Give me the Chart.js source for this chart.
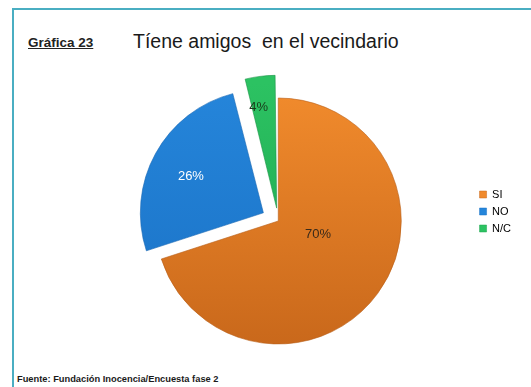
<!DOCTYPE html>
<html>
<head>
<meta charset="utf-8">
<script src="https://cdn.jsdelivr.net/npm/chart.js@4/dist/chart.umd.min.js"></script>
<style>
  html, body { margin: 0; padding: 0; background: #fff; }
  body { width: 531px; height: 387px; position: relative; overflow: hidden; font-family: "Liberation Sans", Arial, sans-serif; }
  .marco { position: absolute; left: 12px; top: 8px; width: 520px; height: 390px; border-top: 2px solid #4aaec2; border-left: 2px solid #4aaec2; border-right: 1px solid #d8eef2; box-sizing: border-box; }
  .numero { position: absolute; left: 28px; top: 35px; font-size: 13.5px; font-weight: bold; text-decoration: underline; color: #222; }
  .titulo { position: absolute; left: 133px; top: 30px; font-size: 19.5px; color: #1a1a1a; white-space: pre; }
  .fuente { position: absolute; left: 17px; top: 374px; font-size: 9.3px; font-weight: bold; color: #1a1a1a; }
  canvas { position: absolute; left: 0; top: 0; }
</style>
</head>
<body>
<div class="marco"></div>
<div class="numero">Gráfica 23</div>
<div class="titulo">Tíene amigos  en el vecindario</div>
<div class="fuente">Fuente: Fundación Inocencia/Encuesta fase 2</div>
<canvas id="grafica" width="531" height="387"></canvas>
<script>
// datos de la grafica
const categorias = ['SI', 'NO', 'N/C'];
const porcentajes = [70, 26, 4];
const coloresArriba = ['#f08a2c', '#2585da', '#2cc262'];
const coloresAbajo = ['#c9681b', '#1a72c6', '#1da44f'];
const coloresTexto = ['#3a2a1a', '#ffffff', '#1a3a1a'];

// degradado vertical para cada porcion
function degradado(ctx) {
    const chart = ctx.chart;
    const area = chart.chartArea;
    const i = ctx.dataIndex;
    if (!area) return coloresArriba[i];
    const cy = (area.top + area.bottom) / 2;
    const g = chart.ctx.createLinearGradient(0, cy - 125, 0, cy + 125);
    g.addColorStop(0, coloresArriba[i]);
    g.addColorStop(1, coloresAbajo[i]);
    return g;
}

// etiquetas de porcentaje dentro de cada porcion
const etiquetas = {
    id: 'etiquetas',
    afterDatasetsDraw(chart, args, opts) {
        const ctx = chart.ctx;
        const meta = chart.getDatasetMeta(0);
        ctx.save();
        ctx.font = '13px "Liberation Sans", Arial, sans-serif';
        ctx.textAlign = 'center';
        ctx.textBaseline = 'middle';
        meta.data.forEach((arc, i) => {
            const p = opts.pos[i];
            const off = (arc.options.offset || 0) / 4;
            const mid = (arc.startAngle + arc.endAngle) / 2;
            const cx = arc.x + Math.cos(mid) * off;
            const cy = arc.y + Math.sin(mid) * off;
            const a = mid + p.da * Math.PI / 180;
            const d = arc.outerRadius * p.f;
            ctx.fillStyle = coloresTexto[i];
            ctx.fillText(porcentajes[i] + '%', cx + Math.cos(a) * d, cy + Math.sin(a) * d);
        });
        ctx.restore();
    }
};

new Chart(document.getElementById('grafica'), {
    type: 'pie',
    data: {
        labels: categorias,
        datasets: [{
            data: porcentajes,
            backgroundColor: degradado,
            borderColor: ['#b8601a', '#1a68b4', '#1b9447'],
            borderWidth: 0.6,
            offset: [0, 68, 52]
        }]
    },
    options: {
        responsive: false,
        animation: false,
        radius: 123,
        layout: {
            padding: { left: 83, right: 10, top: 183, bottom: 128 }
        },
        plugins: {
            legend: {
                position: 'right',
                align: 'start',
                labels: {
                    boxWidth: 7,
                    boxHeight: 7,
                    padding: 6,
                    color: '#333',
                    font: { family: '"Liberation Sans", Arial, sans-serif', size: 11 },
                    generateLabels(chart) {
                        return categorias.map((c, i) => ({
                            text: c,
                            fillStyle: coloresArriba[i],
                            strokeStyle: coloresAbajo[i],
                            lineWidth: 0.5,
                            index: i
                        }));
                    }
                }
            },
            tooltip: { enabled: false },
            etiquetas: {
                pos: [{ f: 0.34, da: -18 }, { f: 0.66, da: -2 }, { f: 0.83, da: -3 }]
            }
        }
    },
    plugins: [etiquetas]
});
</script>
</body>
</html>
